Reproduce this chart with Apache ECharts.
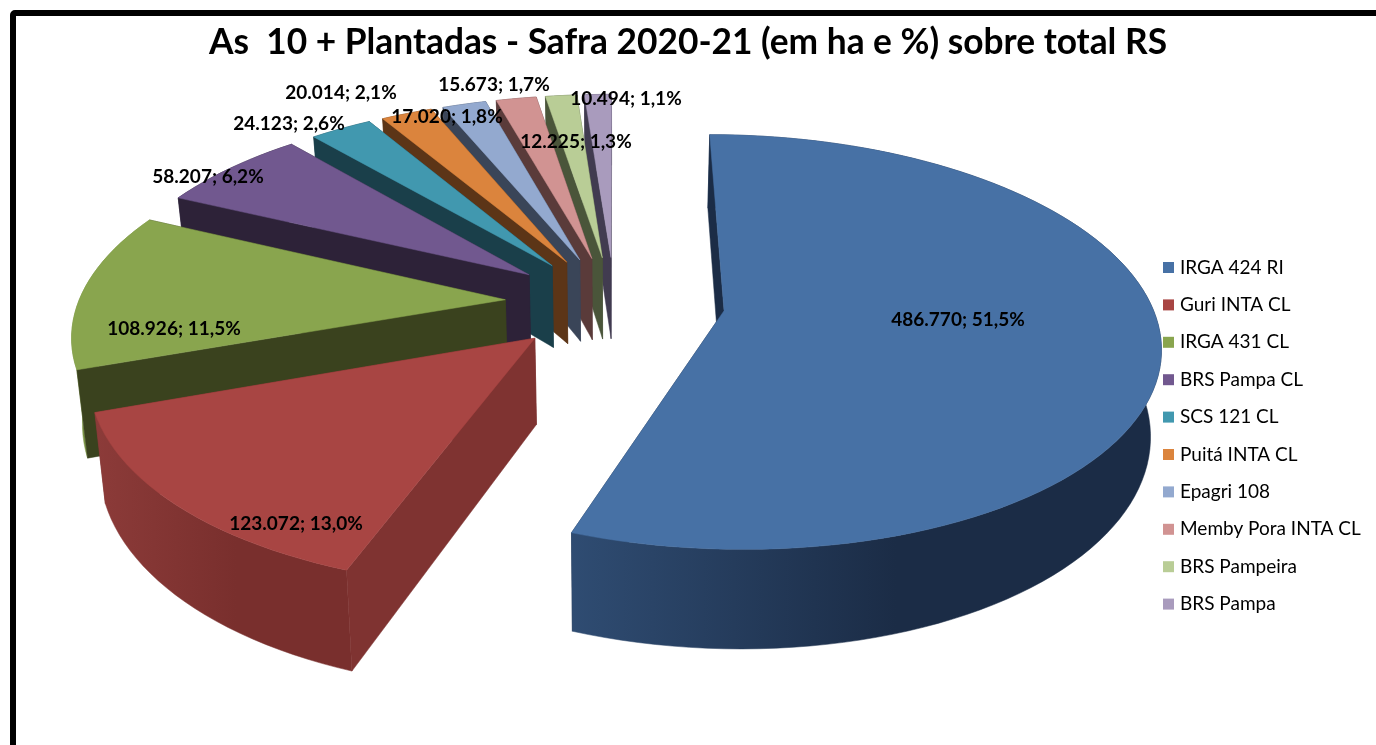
<!DOCTYPE html>
<html>
<head>
<meta charset="utf-8">
<style>html,body{margin:0;padding:0;background:#fff}#main{width:1376px;height:745px}</style>
<script src="https://cdn.jsdelivr.net/npm/echarts@6/dist/echarts.min.js"></script>
</head>
<body>
<div id="main"></div>
<script>
var categories = ['IRGA 424 RI','Guri INTA CL','IRGA 431 CL','BRS Pampa CL','SCS 121 CL','Puitá INTA CL','Epagri 108','Memby Pora INTA CL','BRS Pampeira','BRS Pampa'];
var areaHa = [486770,123072,108926,58207,24123,20014,17020,15673,12225,10494];
var percentRS = ['51,5%','13,0%','11,5%','6,2%','2,6%','2,1%','1,8%','1,7%','1,3%','1,1%'];

var topColors = ['#4771a5','#a84543','#89a54e','#71588f','#4198af','#db843d','#93a9cf','#d19392','#b9cd96','#a99bbd'];
var sideColors = ['#1b2c46','#7f3331','#3a421e','#2d2238','#1a3f4a','#5c3517','#3a4558','#5a3b3a','#4a553a','#413b50'];
var rimColors = [['#2f4c72','#1b2c46'],['#8c3b39','#792f2d'],['#7a9445','#7a9445'],['#2d2238','#2d2238'],['#1a3f4a','#1a3f4a'],['#5c3517','#5c3517'],['#3a4558','#3a4558'],['#5a3b3a','#5a3b3a'],['#4a553a','#4a553a'],['#413b50','#413b50']];
// rotulos foram arrastados a mao no original
var labelPos = [[958,320],[296,524],[174,329],[208,177],[289,124],[341,93],[447,117],[494,85],[576,142],[626,99]];

// projecao da pizza 3D
var CX = 615, CY = 302, A = 440, B = 200, K = 0.15, DEPTH = 84, SHRINK = 0.98;
var EXPLODE_U = 0.25, EXPLODE_BACK = 0.23, EXPLODE_FRONT = 0.25, RADIUS_U = 0.97;

var total = areaHa.reduce(function(a,b){return a+b;},0);
var rad = Math.PI/180;

function project(u,v){
  var w = 1+K*v;
  return [CX+A*u/w, CY-B*v/w, w];
}
function lower(p){
  return [CX+(p[0]-CX)*SHRINK, p[1]+DEPTH/p[2]];
}
function xy(p){ return [p[0],p[1]]; }

function slice(i){
  var before = 0;
  for(var k=0;k<i;k++) before += areaHa[k];
  var a0 = before/total*360, a1 = (before+areaHa[i])/total*360, mid = (a0+a1)/2;
  var c = Math.cos(mid*rad);
  var ox = EXPLODE_U*Math.sin(mid*rad), oy = (c>0?EXPLODE_BACK:EXPLODE_FRONT)*c;
  var apex = project(ox,oy), arc = [];
  var n = Math.max(4,Math.ceil((a1-a0)/2));
  for(var j=0;j<=n;j++){
    var t = (a0+(a1-a0)*j/n)*rad;
    arc.push(project(ox+RADIUS_U*Math.sin(t),oy+Math.cos(t)));
  }
  return {apex:apex,arc:arc};
}

function poly(points,fill){
  return {type:'polygon',shape:{points:points},style:{fill:fill,stroke:fill,lineWidth:0.5}};
}

function renderSlice(i){
  return function(){
    var s = slice(i), arc = s.arc, last = arc[arc.length-1];
    var rim = arc.map(xy).concat(arc.slice().reverse().map(lower));
    var grad = new echarts.graphic.LinearGradient(0,0,1,0,[
      {offset:0,color:rimColors[i][0]},
      {offset:0.55,color:rimColors[i][1]},
      {offset:1,color:rimColors[i][1]}
    ]);
    return {type:'group',children:[
      poly([xy(s.apex),xy(last),lower(last),lower(s.apex)],sideColors[i]),
      poly(rim,grad),
      poly([xy(s.apex),xy(arc[0]),lower(arc[0]),lower(s.apex)],sideColors[i]),
      poly([xy(s.apex)].concat(arc.map(xy)),topColors[i])
    ]};
  };
}

function haLabel(v){
  return String(v).replace(/\B(?=(\d{3})+$)/g,'.');
}

var series = categories.map(function(name,i){
  return {
    name:name,type:'custom',coordinateSystem:'none',silent:true,animation:false,
    z:3+categories.length-i,
    itemStyle:{color:topColors[i]},
    data:[[areaHa[i]]],
    renderItem:renderSlice(i)
  };
});
series.push({
  name:'rotulos',type:'custom',coordinateSystem:'none',silent:true,animation:false,z:40,
  data:areaHa.map(function(v,i){return [v,i];}),
  renderItem:function(params,api){
    var i = api.value(1);
    return {type:'text',style:{
      x:labelPos[i][0],y:labelPos[i][1],
      text:haLabel(api.value(0))+'; '+percentRS[i],
      fill:'#000',font:'bold 19px Lato',textAlign:'center',textVerticalAlign:'middle'
    }};
  }
});

var myChart = echarts.init(document.getElementById('main'));
myChart.setOption({
  backgroundColor:'#fff',
  animation:false,
  title:{
    text:'As  10 + Plantadas - Safra 2020-21 (em ha e %) sobre total RS',
    left:'center',top:20,
    textStyle:{fontFamily:'Lato',fontWeight:'bold',fontSize:35.3,color:'#000'}
  },
  legend:{
    orient:'vertical',left:1158,top:253,
    data:categories,icon:'rect',itemWidth:11,itemHeight:11,itemGap:18.4,
    selectedMode:false,
    textStyle:{fontFamily:'Lato',fontSize:19,color:'#000',padding:[0,0,0,1]}
  },
  graphic:[{
    type:'rect',z:100,silent:true,
    shape:{x:13,y:13,width:1450,height:800,r:2},
    style:{fill:'none',stroke:'#000',lineWidth:6}
  }],
  series:series
});
</script>
</body>
</html>
